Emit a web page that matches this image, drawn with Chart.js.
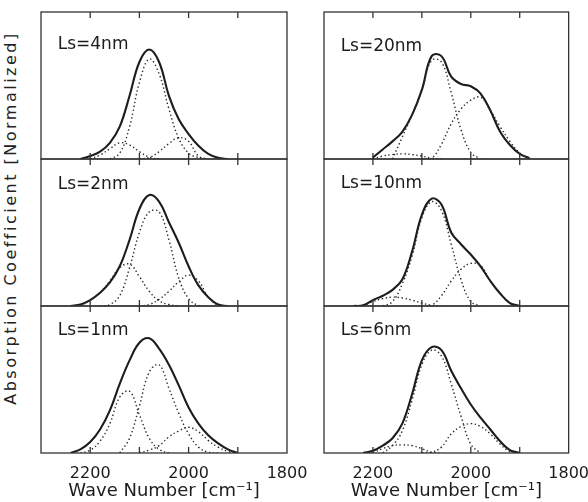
<!DOCTYPE html>
<html>
<head>
<meta charset="utf-8">
<title>Absorption coefficient vs wave number</title>
<script src="https://cdn.jsdelivr.net/npm/chart.js"></script>
<style>
  body { margin: 0; width: 588px; height: 502px; overflow: hidden; background: #fff; position: relative; }
  canvas { position: absolute; top: 0; }
  #left { left: 0; }
  #right { left: 300px; }
  .ytitle {
    position: absolute; left: 10px; top: 218px;
    transform: translate(-50%, -50%) rotate(-90deg);
    white-space: nowrap; font: 16px "DejaVu Sans"; letter-spacing: 2.5px; color: #222;
  }
</style>
</head>
<body>
<div class="ytitle">Absorption Coefficient [Normalized]</div>
<canvas id="left" width="320" height="502"></canvas>
<canvas id="right" width="300" height="502"></canvas>
<script>
const waveNumbers = [2240, 2220, 2200, 2180, 2160, 2140, 2120, 2100, 2080, 2060, 2040, 2020, 2000, 1980, 1960, 1940, 1920, 1900, 1880];
const xTickLabels = [2200, 2000, 1800];

// Ls = 4nm
const ls4Total = [null, 0, 0.02, 0.05, 0.11, 0.22, 0.43, 0.66, 0.745, 0.66, 0.43, 0.27, 0.17, 0.09, 0.035, 0.008, 0, null, null];
const ls4Main  = [null, null, null, null, 0, 0.04, 0.22, 0.52, 0.68, 0.58, 0.34, 0.14, 0.04, 0.01, 0, null, null, null, null];
const ls4Low   = [null, null, 0, 0.027, 0.07, 0.11, 0.095, 0.05, 0.012, 0, null, null, null, null, null, null, null, null, null];
const ls4High  = [null, null, null, null, null, null, null, 0, 0.01, 0.05, 0.105, 0.145, 0.12, 0.02, 0, null, null, null, null];

// Ls = 2nm
const ls2Total = [0, 0.01, 0.04, 0.09, 0.16, 0.27, 0.45, 0.66, 0.755, 0.71, 0.57, 0.43, 0.27, 0.14, 0.06, 0.01, 0, null, null];
const ls2Main  = [null, null, null, 0, 0.01, 0.07, 0.26, 0.5, 0.64, 0.64, 0.45, 0.19, 0.05, 0.005, 0, null, null, null, null];
const ls2Low   = [null, 0, 0.04, 0.09, 0.17, 0.26, 0.285, 0.2, 0.1, 0.035, 0.01, 0, null, null, null, null, null, null, null];
const ls2High  = [null, null, null, null, null, null, null, 0, 0.01, 0.045, 0.1, 0.165, 0.21, 0.17, 0.06, 0.005, 0, null, null];

// Ls = 1nm
const ls1Total = [0, 0.025, 0.075, 0.16, 0.29, 0.47, 0.63, 0.75, 0.78, 0.71, 0.6, 0.46, 0.31, 0.2, 0.12, 0.065, 0.025, 0, null];
const ls1Main  = [null, null, null, null, null, 0, 0.1, 0.32, 0.55, 0.6, 0.44, 0.27, 0.13, 0.04, 0.005, 0, null, null, null];
const ls1Low   = [null, 0, 0.02, 0.08, 0.2, 0.38, 0.42, 0.26, 0.1, 0.025, 0, null, null, null, null, null, null, null, null];
const ls1High  = [null, null, null, null, null, null, null, 0, 0.02, 0.05, 0.11, 0.15, 0.175, 0.145, 0.085, 0.04, 0.01, 0, null];

// Ls = 20nm
const ls20Total = [null, null, 0.01, 0.065, 0.12, 0.185, 0.3, 0.47, 0.7, 0.7, 0.56, 0.51, 0.495, 0.445, 0.33, 0.185, 0.095, 0.035, 0.005];
const ls20Main  = [null, null, null, null, 0, 0.15, 0.3, 0.47, 0.67, 0.66, 0.45, 0.2, 0.045, 0, null, null, null, null, null];
const ls20Low   = [null, null, 0, 0.02, 0.03, 0.035, 0.03, 0.02, 0.005, 0, null, null, null, null, null, null, null, null, null];
const ls20High  = [null, null, null, null, null, null, null, 0, 0.005, 0.1, 0.24, 0.34, 0.4, 0.42, 0.33, 0.22, 0.12, 0.04, 0.005];

// Ls = 10nm
const ls10Total = [0, 0.005, 0.04, 0.07, 0.11, 0.18, 0.37, 0.62, 0.73, 0.69, 0.5, 0.42, 0.35, 0.27, 0.17, 0.085, 0.02, 0, null];
const ls10Main  = [null, null, null, 0, 0.03, 0.15, 0.34, 0.6, 0.71, 0.65, 0.42, 0.18, 0.03, 0, null, null, null, null, null];
const ls10Low   = [null, 0, 0.03, 0.05, 0.06, 0.055, 0.04, 0.02, 0.005, 0, null, null, null, null, null, null, null, null, null];
const ls10High  = [null, null, null, null, null, null, null, 0, 0.005, 0.07, 0.17, 0.25, 0.29, 0.275, 0.17, 0.085, 0.02, 0, null];

// Ls = 6nm
const ls6Total = [null, 0, 0.015, 0.05, 0.1, 0.2, 0.4, 0.63, 0.72, 0.7, 0.56, 0.44, 0.33, 0.24, 0.16, 0.08, 0.02, 0, null];
const ls6Main  = [null, null, null, 0, 0.05, 0.15, 0.36, 0.6, 0.7, 0.66, 0.47, 0.25, 0.06, 0, null, null, null, null, null];
const ls6Low   = [null, null, 0, 0.03, 0.05, 0.055, 0.05, 0.03, 0.005, 0, null, null, null, null, null, null, null, null, null];
const ls6High  = [null, null, null, null, null, null, null, 0, 0.005, 0.04, 0.13, 0.18, 0.2, 0.18, 0.13, 0.06, 0.01, 0, null];

const ink = '#1c1c1c';

function points(values) {
  return waveNumbers.map((w, i) => ({ x: w, y: values[i] }));
}

function panelSets(axis, total, parts) {
  const sets = parts.map(p => ({
    data: points(p), yAxisID: axis,
    borderColor: '#2a2a2a', borderWidth: 1.4, borderDash: [1.4, 2.6]
  }));
  sets.push({ data: points(total), yAxisID: axis, borderColor: ink, borderWidth: 2.1 });
  return sets;
}

// frames, inner tick marks and the Ls labels of each panel
const framePlugin = {
  id: 'frames',
  afterDatasetsDraw(chart, args, opts) {
    const ctx = chart.ctx;
    const x = chart.scales.x;
    const { left, right } = chart.chartArea;
    const inner = x.ticks.filter(t => t.value > x.min && t.value < x.max);
    ctx.save();
    ctx.strokeStyle = '#333';
    ctx.lineWidth = 1.3;
    opts.labels.forEach((text, i) => {
      const y = chart.scales['y' + i];
      ctx.strokeRect(left, y.top, right - left, y.bottom - y.top);
      ctx.beginPath();
      inner.forEach(t => {
        const px = x.getPixelForValue(t.value);
        ctx.moveTo(px, y.top); ctx.lineTo(px, y.top + 6);
        ctx.moveTo(px, y.bottom); ctx.lineTo(px, y.bottom - 6);
      });
      ctx.stroke();
      ctx.fillStyle = ink;
      ctx.font = '17px "DejaVu Sans"';
      ctx.textBaseline = 'middle';
      ctx.fillText(text, x.getPixelForValue(2266), y.getPixelForValue(opts.levels[i]));
    });
    ctx.restore();
  }
};

function buildColumn(id, padLeft, padRight, panels, labels, levels) {
  const scales = {
    x: {
      type: 'linear', position: 'bottom', min: 1800, max: 2300, reverse: true,
      grid: { display: false, drawTicks: false },
      border: { display: false },
      ticks: {
        stepSize: 100, autoSkip: false, maxRotation: 0, padding: 11, color: ink,
        font: { family: 'DejaVu Sans', size: 16 },
        callback: v => xTickLabels.includes(v) ? String(v) : ''
      },
      title: {
        display: true, text: 'Wave Number [cm⁻¹]', color: ink,
        font: { family: 'DejaVu Sans', size: 18 }, padding: { top: 0, bottom: 0 }
      },
      afterFit: s => { s.height = 49; }
    }
  };
  // stacked axes are laid out bottom-up, so the lowest panel is added first
  for (let i = panels.length - 1; i >= 0; i--) {
    scales['y' + i] = { type: 'linear', display: false, min: 0, max: 1, stack: 'column', stackWeight: 1 };
  }
  const datasets = [];
  panels.forEach((p, i) => {
    datasets.push(...panelSets('y' + i, p.total, p.parts));
  });
  new Chart(document.getElementById(id), {
    type: 'line',
    data: { datasets },
    options: {
      responsive: false,
      animation: false,
      layout: { padding: { left: padLeft, right: padRight, top: 12, bottom: 0 } },
      elements: {
        point: { radius: 0 },
        line: { tension: 0.4, fill: false }
      },
      plugins: {
        legend: { display: false },
        tooltip: { enabled: false },
        frames: { labels, levels }
      },
      scales
    },
    plugins: [framePlugin]
  });
}

buildColumn('left', 41, 33, [
  { total: ls4Total, parts: [ls4Low, ls4Main, ls4High] },
  { total: ls2Total, parts: [ls2Low, ls2Main, ls2High] },
  { total: ls1Total, parts: [ls1Low, ls1Main, ls1High] }
], ['Ls=4nm', 'Ls=2nm', 'Ls=1nm'], [0.775, 0.827, 0.833]);

buildColumn('right', 24, 30, [
  { total: ls20Total, parts: [ls20Low, ls20Main, ls20High] },
  { total: ls10Total, parts: [ls10Low, ls10Main, ls10High] },
  { total: ls6Total, parts: [ls6Low, ls6Main, ls6High] }
], ['Ls=20nm', 'Ls=10nm', 'Ls=6nm'], [0.762, 0.83, 0.833]);
</script>
</body>
</html>
